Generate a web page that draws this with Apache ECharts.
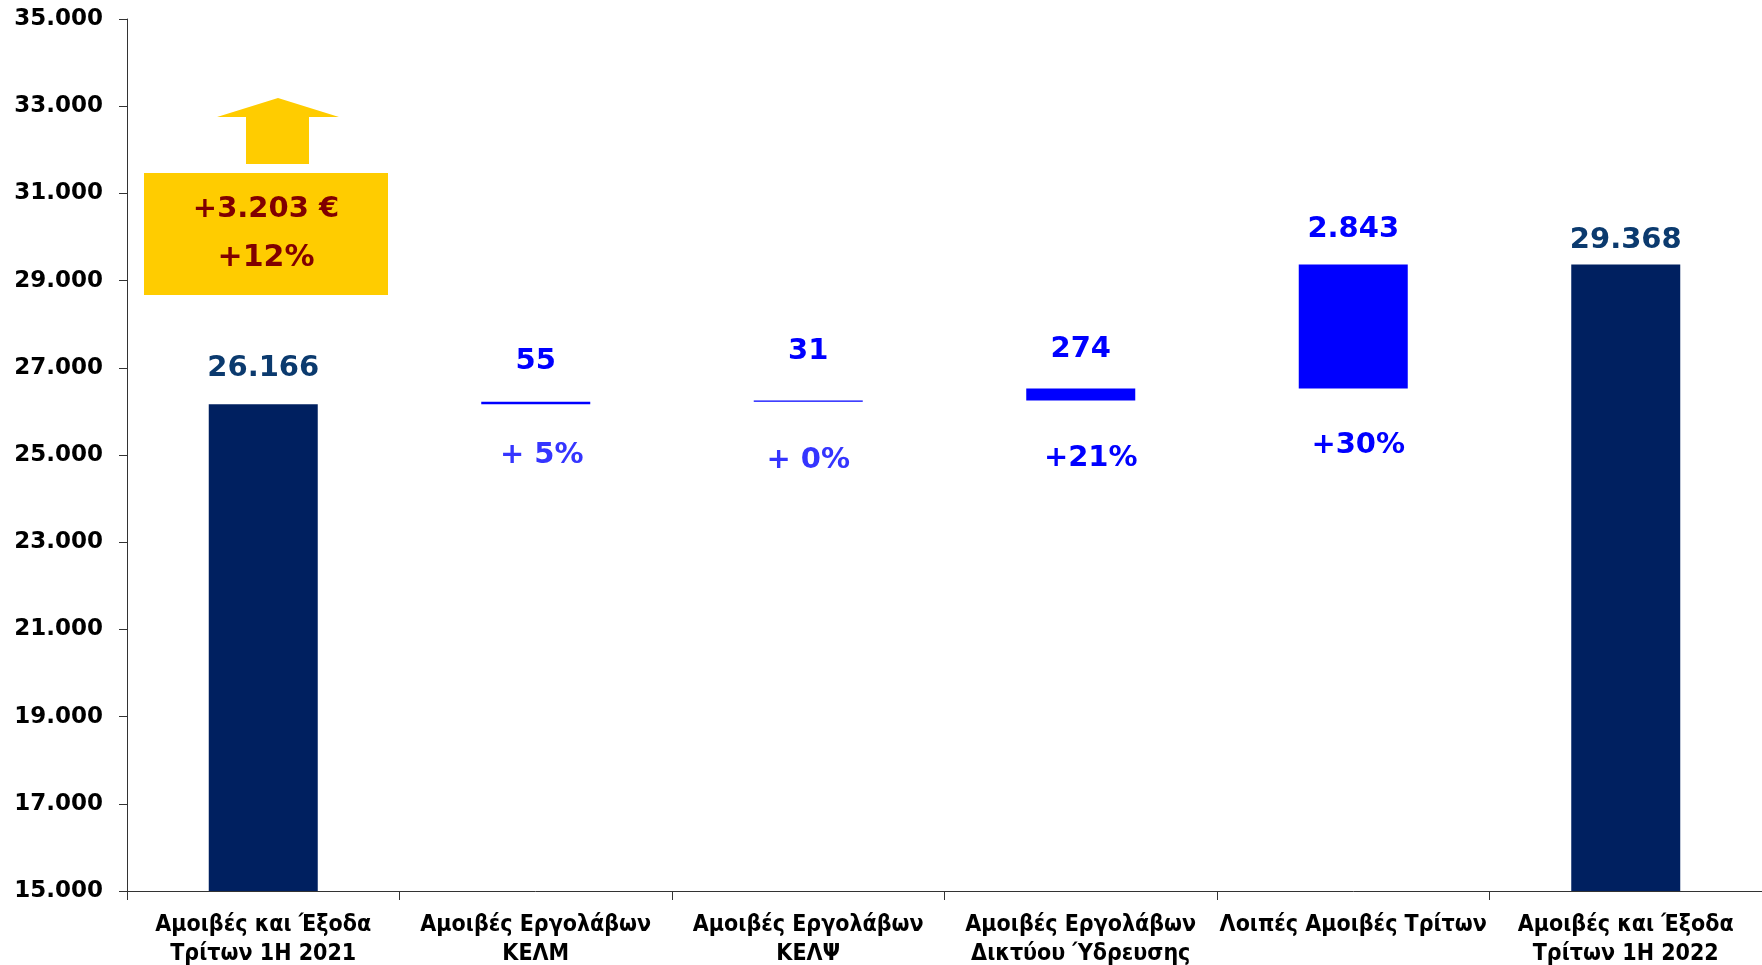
<!DOCTYPE html>
<html>
<head>
<meta charset="utf-8">
<script src="https://cdn.jsdelivr.net/npm/echarts@6/dist/echarts.min.js"></script>
<style>
  html, body { margin: 0; padding: 0; background: #fff; }
  #myChart { width: 1762px; height: 965px; }
</style>
</head>
<body>
<div id="myChart"></div>
<script>
  // κατηγορίες άξονα Χ
  let categories = [
    'Αμοιβές και Έξοδα\nΤρίτων 1Η 2021',
    'Αμοιβές Εργολάβων\nΚΕΛΜ',
    'Αμοιβές Εργολάβων\nΚΕΛΨ',
    'Αμοιβές Εργολάβων\nΔικτύου Ύδρευσης',
    'Λοιπές Αμοιβές Τρίτων',
    'Αμοιβές και Έξοδα\nΤρίτων 1Η 2022'
  ]
  // σύνολα (αρχή / τέλος)
  let totals = [26166, '-', '-', '-', '-', 29368]
  // μεταβολές
  let deltas = ['-', 55, 31, 274, 2843, '-']
  // ποσοστά κάτω από τις μεταβολές
  let pctLabels = ['', '+ 5%', '+ 0%', '+21%', '+30%', '']
  // άξονας Υ
  let yMin = 15000
  let yMax = 35000
  let yStep = 2000
  // κίτρινο πλαίσιο
  let changeText = ['+3.203 €', '+12%']

  // ---- εμφάνιση ----
  let fmt = v => String(v).replace(/\B(?=(\d{3})+(?!\d))/g, '.')
  let valueGap = [21, 26, 34, 24, 21, 10]   // απόσταση ετικέτας πάνω από τη μπάρα
  let pctGap = [0, 37, 44, 44, 43]          // απόσταση ποσοστού κάτω από τη μπάρα
  let pctShift = [0, 6, 0, 10, 5, 0]
  let pctColor = ['#0000FF', '#3535FF', '#3535FF', '#0000FF', '#0000FF', '#0000FF']

  // αόρατη βάση του καταρράκτη
  let base = []
  let running = totals[0]
  deltas.forEach((d, i) => {
    if (d === '-') { base.push('-'); return }
    base.push(running)
    running += d
  })

  let numFont = 'DejaVu Sans'

  let myChart = echarts.init(document.getElementById('myChart'))
  myChart.setOption({
    animation: false,
    grid: { left: 127, right: 0, top: 19, bottom: 74, outerBoundsMode: 'none', containLabel: false },
    xAxis: {
      type: 'category',
      data: categories,
      axisLine: { lineStyle: { color: '#333', width: 1 } },
      axisTick: { show: true, length: 9, lineStyle: { color: '#333' } },
      axisLabel: {
        interval: 0,
        margin: 20,
        lineHeight: 29,
        color: '#000',
        fontSize: 23,
        fontWeight: 'bold',
        fontFamily: '"DejaVu Sans Condensed", "Liberation Sans Narrow", sans-serif'
      }
    },
    yAxis: {
      type: 'value',
      min: yMin,
      max: yMax,
      interval: yStep,
      splitLine: { show: false },
      axisLine: { show: true, lineStyle: { color: '#333', width: 1 } },
      axisTick: { show: true, length: 8, lineStyle: { color: '#333' } },
      axisLabel: {
        margin: 24,
        color: '#000',
        fontSize: 23,
        fontWeight: 'bold',
        fontFamily: numFont,
        formatter: v => fmt(v)
      }
    },
    series: [
      {
        name: 'base',
        type: 'bar',
        stack: 'w',
        barWidth: '40%',
        silent: true,
        itemStyle: { color: 'transparent' },
        data: base.map((v, i) => ({
          value: v,
          label: {
            show: v !== '-',
            position: 'insideTop',
            distance: pctGap[i] || 0,
            offset: [pctShift[i], 0],
            color: pctColor[i],
            formatter: () => pctLabels[i]
          }
        })),
        label: { fontSize: 29, fontWeight: 'bold', fontFamily: numFont }
      },
      {
        name: 'totals',
        type: 'bar',
        stack: 'w',
        barWidth: '40%',
        itemStyle: { color: '#002060' },
        data: totals.map((v, i) => ({ value: v, label: { distance: valueGap[i] } })),
        label: {
          show: true,
          position: 'top',
          color: '#0B3A6E',
          fontSize: 29,
          fontWeight: 'bold',
          fontFamily: numFont,
          formatter: p => fmt(p.value)
        }
      },
      {
        name: 'deltas',
        type: 'bar',
        stack: 'w',
        barWidth: '40%',
        itemStyle: { color: '#0000FF' },
        data: deltas.map((v, i) => ({ value: v, label: { distance: valueGap[i] } })),
        label: {
          show: true,
          position: 'top',
          color: '#0000FF',
          fontSize: 29,
          fontWeight: 'bold',
          fontFamily: numFont,
          formatter: p => fmt(p.value)
        }
      }
    ],
    // κίτρινο βέλος και πλαίσιο μεταβολής
    graphic: [
      {
        type: 'polygon',
        shape: { points: [[217, 117], [278, 98], [339, 117], [309, 117], [309, 164], [246, 164], [246, 117]] },
        style: { fill: '#FFCC00' }
      },
      {
        type: 'rect',
        shape: { x: 144, y: 173, width: 244, height: 122 },
        style: { fill: '#FFCC00' }
      },
      {
        type: 'text',
        style: { text: changeText[0], x: 266, y: 209, textAlign: 'center', textVerticalAlign: 'middle',
          fill: '#800000', font: 'bold 29px "DejaVu Sans"' }
      },
      {
        type: 'text',
        style: { text: changeText[1], x: 266, y: 258, textAlign: 'center', textVerticalAlign: 'middle',
          fill: '#800000', font: 'bold 30px "DejaVu Sans"' }
      }
    ]
  })
</script>
</body>
</html>
